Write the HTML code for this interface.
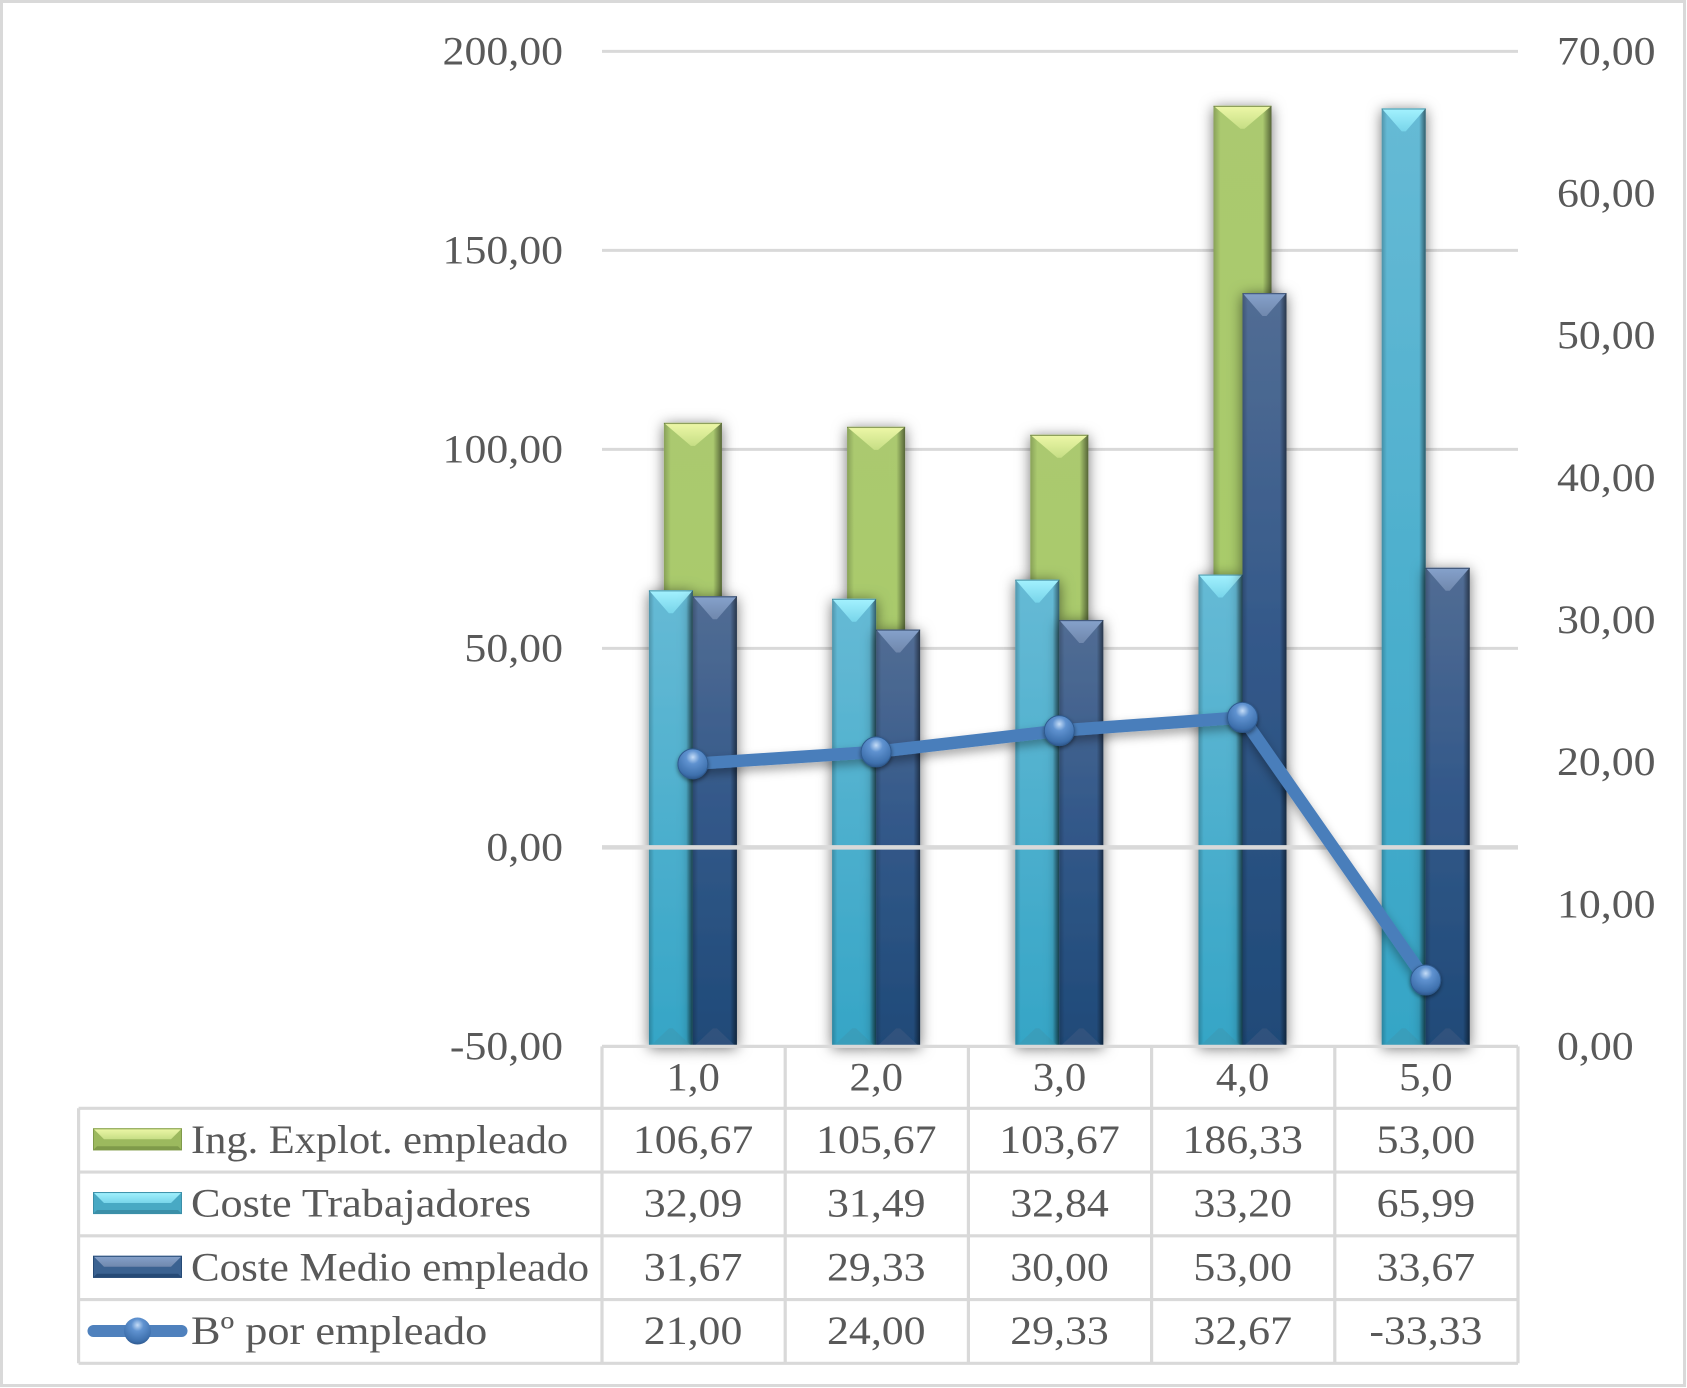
<!DOCTYPE html>
<html lang="es">
<head>
<meta charset="utf-8">
<title>Chart</title>
<style>
html,body{margin:0;padding:0;background:#fff;}
svg{display:block;}
text{font-family:"Liberation Serif",serif;font-size:40px;fill:#595959;}
</style>
</head>
<body>
<svg id="chart" xmlns="http://www.w3.org/2000/svg" width="1687" height="1388" viewBox="0 0 1687 1388">
<defs>
  <filter id="shadow" x="-60%" y="-10%" width="220%" height="120%"><feDropShadow dx="0" dy="2" stdDeviation="7" flood-color="#000" flood-opacity="0.55"/></filter>
  <filter id="ballShadow" x="-30%" y="-30%" width="160%" height="160%"><feDropShadow dx="0" dy="2" stdDeviation="2" flood-color="#000" flood-opacity="0.45"/></filter>
  <filter id="lineShadow" x="-10%" y="-30%" width="120%" height="160%"><feDropShadow dx="0" dy="5" stdDeviation="5" flood-color="#000" flood-opacity="0.35"/></filter>
  <linearGradient id="gGreen" x1="0" y1="0" x2="0" y2="1"><stop offset="0" stop-color="#abc96f"/><stop offset="1" stop-color="#a7cc68"/></linearGradient>
  <linearGradient id="gBlue" x1="0" y1="0" x2="0" y2="1"><stop offset="0" stop-color="#66bad5"/><stop offset="1" stop-color="#35a5c6"/></linearGradient>
  <linearGradient id="gDark" x1="0" y1="0" x2="0" y2="1"><stop offset="0" stop-color="#526d94"/><stop offset="0.45" stop-color="#34598a"/><stop offset="1" stop-color="#1f4a78"/></linearGradient>
  <linearGradient id="gEdge" x1="0" y1="0" x2="1" y2="0"><stop offset="0" stop-color="#000" stop-opacity="0.2"/><stop offset="0.12" stop-color="#000" stop-opacity="0"/><stop offset="0.85" stop-color="#000" stop-opacity="0"/><stop offset="1" stop-color="#000" stop-opacity="0.5"/></linearGradient>
  <linearGradient id="tGreen" x1="0" y1="0" x2="0" y2="1"><stop offset="0" stop-color="#eef8a8"/><stop offset="1" stop-color="#c6de85"/></linearGradient>
  <linearGradient id="tBlue" x1="0" y1="0" x2="0" y2="1"><stop offset="0" stop-color="#a4f2ff"/><stop offset="1" stop-color="#78d5ea"/></linearGradient>
  <linearGradient id="tDark" x1="0" y1="0" x2="0" y2="1"><stop offset="0" stop-color="#86a2cc"/><stop offset="1" stop-color="#7088ad"/></linearGradient>
  <radialGradient id="gBall" cx="0.5" cy="0.28" r="0.75"><stop offset="0" stop-color="#c4dcf7"/><stop offset="0.3" stop-color="#5f92d0"/><stop offset="0.8" stop-color="#3e70ad"/><stop offset="1" stop-color="#2c5488"/></radialGradient>
</defs>
<rect x="1.5" y="1.5" width="1683" height="1384" fill="#fff" stroke="#d9d9d9" stroke-width="3"/>
<g id="layer"></g>
</svg>
<script>
const categories = [1, 2, 3, 4, 5];
const ingExplot = [106.67, 105.67, 103.67, 186.33, 53.00];
const costeTrabajadores = [32.09, 31.49, 32.84, 33.20, 65.99];
const costeMedio = [31.67, 29.33, 30.00, 53.00, 33.67];
const beneficio = [21.00, 24.00, 29.33, 32.67, -33.33];
const leftTicks = [-50, 0, 50, 100, 150, 200];
const rightTicks = [0, 10, 20, 30, 40, 50, 60, 70];
const seriesNames = ["Ing. Explot. empleado", "Coste Trabajadores", "Coste Medio empleado", "Bº por empleado"];
const legendStretch = [1.061, 1.105, 1.073, 1.106];

const NS = "http://www.w3.org/2000/svg";
const layer = document.getElementById("layer");
const plot = {left: 602, right: 1518, top: 51.4, bottom: 1046.4};
const GRID = "#d9d9d9";
const NUM_STRETCH = 1.095;
const CAT_STRETCH = 1.07;

const yLeft = v => plot.bottom - (v - (-50)) / 250 * (plot.bottom - plot.top);
const yRight = v => plot.bottom - v / 70 * (plot.bottom - plot.top);
const colW = (plot.right - plot.left) / categories.length;
const xCenter = i => plot.left + colW * (i + 0.5);
const xMark = i => xCenter(i) - 0.7;
const rowY = i => 1108.3 + 63.75 * i;
const fmt = (v, d) => v.toFixed(d).replace(".", ",");

function el(tag, attrs, parent) {
  const e = document.createElementNS(NS, tag);
  for (const k in attrs) e.setAttribute(k, attrs[k]);
  (parent || layer).appendChild(e);
  return e;
}
function txt(str, x, y, anchor, stretch) {
  const t = el("text", {x: x, y: y, "text-anchor": anchor});
  t.textContent = str;
  t.setAttribute("textLength", (t.getComputedTextLength() * stretch).toFixed(2));
  t.setAttribute("lengthAdjust", "spacingAndGlyphs");
  return t;
}
function poly(points, fill, parent) {
  return el("polygon", {points: points.map(p => p.join(",")).join(" "), fill: fill}, parent);
}
function drawBar(x, w, topY, baseY, kind, name) {
  const g = el("g", {});
  
  
  const h = Math.max(baseY - topY, 0);
  const fills = {Green: "#3f5a1e", Blue: "#1e6478", Dark: "#11233f"};
  el("rect", {x: x, y: topY, width: w, height: h, fill: "url(#g" + kind + ")", filter: "url(#shadow)"}, g);
  el("rect", {x: x, y: topY, width: w, height: h, fill: "url(#gEdge)"}, g);
  const d = 23, flat = 2;
  poly([[x, topY], [x + w, topY], [x + w / 2 + flat, topY + d], [x + w / 2 - flat, topY + d]], "url(#t" + kind + ")", g);
  el("rect", {x: x, y: topY, width: w, height: 1.2, fill: fills[kind], opacity: 0.55}, g);
  if (kind !== "Green") {
    const b = poly([[x + 1, baseY], [x + w - 1, baseY], [x + w / 2 + flat, baseY - 18], [x + w / 2 - flat, baseY - 18]], kind === "Blue" ? "#3c9bb7" : "#38567f", g);
    b.setAttribute("opacity", "0.7");
  }
  el("rect", {x: x, y: baseY - 1.5, width: w, height: 1.5, fill: fills[kind], opacity: 0.5}, g);
}

// gridlines
leftTicks.forEach(v => {
  if (v === -50 || v === 0) return;
  const l = el("line", {x1: plot.left, x2: plot.right, y1: yLeft(v), y2: yLeft(v), stroke: GRID, "stroke-width": 3});
  
  
});

// axis labels
leftTicks.forEach(v => {
  const t = txt(fmt(v, 2), 563, yLeft(v) + 13, "end", NUM_STRETCH);
  
  
});
rightTicks.forEach(v => {
  const t = txt(fmt(v, 2), 1557, yRight(v) + 13, "start", NUM_STRETCH);
  
  
});

// bars
const greenW = 58, barW = 44;
categories.forEach((c, i) => {
  drawBar(xMark(i) - greenW / 2, greenW, yLeft(ingExplot[i]), yLeft(0), "Green", "bar-ing-explot-" + c);
});
categories.forEach((c, i) => {
  drawBar(xMark(i) - barW, barW, yRight(costeTrabajadores[i]), yRight(0), "Blue", "bar-coste-trabajadores-" + c);
});
categories.forEach((c, i) => {
  drawBar(xMark(i), barW, yRight(costeMedio[i]), yRight(0), "Dark", "bar-coste-medio-" + c);
});

// zero axis line
const zeroLine = el("line", {x1: plot.left, x2: plot.right, y1: yLeft(0), y2: yLeft(0), stroke: GRID, "stroke-width": 4.5});



// table grid
function tableLine(x1, y1, x2, y2, name) {
  const l = el("line", {x1: x1, y1: y1, x2: x2, y2: y2, stroke: GRID, "stroke-width": 3.2});
  
  
}
const tableLeft = 78.6;
tableLine(plot.left, plot.bottom, plot.right, plot.bottom, "table-top-border");
for (let r = 0; r <= seriesNames.length; r++) {
  tableLine(tableLeft, rowY(r), plot.right, rowY(r), "table-row-line");
}
tableLine(tableLeft, rowY(0), tableLeft, rowY(seriesNames.length), "table-left-border");
for (let c = 0; c <= categories.length; c++) {
  tableLine(plot.left + colW * c, plot.bottom, plot.left + colW * c, rowY(seriesNames.length), "table-column-line");
}

// table text
categories.forEach((c, i) => {
  const t = txt(fmt(c, 1), xCenter(i) - 0.5, plot.bottom + 44, "middle", CAT_STRETCH);
  
  
});
[ingExplot, costeTrabajadores, costeMedio, beneficio].forEach((series, r) => {
  series.forEach((v, i) => {
    const t = txt(fmt(v, 2), xCenter(i) - 0.5, rowY(r) + 44.5, "middle", NUM_STRETCH);
    
    
  });
});
seriesNames.forEach((n, r) => {
  const t = txt(n, 191, rowY(r) + 44.5, "start", legendStretch[r]);
  
  
});

// legend keys
function legendKey(r, kind, side, bottom) {
  const g = el("g", {});
  
  
  const x = 93, w = 89, y = rowY(r) + 20, h = 22, d = 11;
  el("rect", {x: x, y: y, width: w, height: h, fill: side}, g);
  poly([[x, y], [x + w, y], [x + w - d, y + d], [x + d, y + d]], "url(#t" + kind + ")", g);
  poly([[x, y + h], [x + w, y + h], [x + w - 4, y + h - 4], [x + 4, y + h - 4]], bottom, g);
  el("rect", {x: x + 0.5, y: y + 0.5, width: w - 1, height: h - 1, fill: "none", stroke: bottom, "stroke-width": 1}, g);
}
legendKey(0, "Green", "#9cb95e", "#7f9a4a");
legendKey(1, "Blue", "#48a9c4", "#3b8fa8");
legendKey(2, "Dark", "#3b6291", "#264a76");
const keyLine = el("line", {x1: 93.5, x2: 181.5, y1: rowY(3) + 31.5, y2: rowY(3) + 31.5, stroke: "#4f81bd", "stroke-width": 12, "stroke-linecap": "round"});


const keyBall = el("ellipse", {cx: 137.5, cy: rowY(3) + 31.5, rx: 13.5, ry: 13.5, fill: "url(#gBall)"});



// line series
const linePts = beneficio.map((v, i) => [xMark(i), yLeft(v)]);
const line = el("polyline", {points: linePts.map(p => p.join(",")).join(" "), fill: "none", stroke: "#4a7ebb", "stroke-width": 12.5, "stroke-linejoin": "round", filter: "url(#lineShadow)"});


linePts.forEach((p, i) => {
  const m = el("circle", {cx: p[0], cy: p[1], r: 15, fill: "url(#gBall)", stroke: "#2f5a8e", "stroke-width": 1, filter: "url(#ballShadow)"});
  
  
});
</script>
</body>
</html>
